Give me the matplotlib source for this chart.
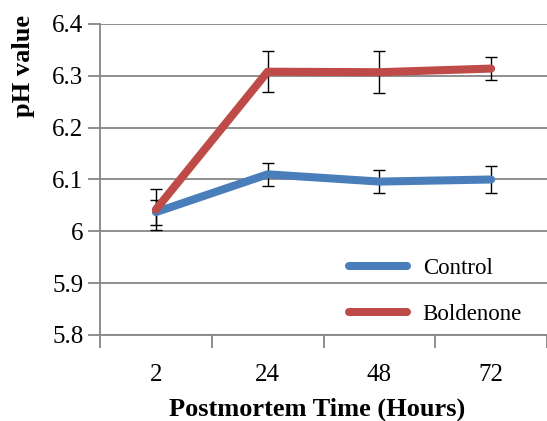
import matplotlib.pyplot as plt

plt.rcParams['font.family'] = ['Liberation Serif', 'DejaVu Serif']

hours = ['2', '24', '48', '72']
control = [6.037, 6.110, 6.096, 6.100]
control_err = [0.024, 0.022, 0.022, 0.027]
boldenone = [6.042, 6.308, 6.307, 6.314]
boldenone_err = [0.040, 0.040, 0.041, 0.022]

BLUE = '#4a7ebb'
RED = '#be4b48'
GRAY = '#868686'

fig = plt.figure(figsize=(5.47, 4.21), dpi=100)
ax = fig.add_axes([100 / 547, 1 - 335 / 421, 1 - 100 / 547, (335 - 24) / 421])

x = list(range(len(hours)))

ax.errorbar(x, control, yerr=control_err, fmt='none', ecolor='black',
            elinewidth=1, capsize=4, capthick=1, zorder=2)
ax.errorbar(x, boldenone, yerr=boldenone_err, fmt='none', ecolor='black',
            elinewidth=1, capsize=4, capthick=1, zorder=2)
ax.plot(x, control, color=BLUE, lw=5.8, solid_capstyle='round',
        solid_joinstyle='round', label='Control', zorder=3)
ax.plot(x, boldenone, color=RED, lw=5.8, solid_capstyle='round',
        solid_joinstyle='round', label='Boldenone', zorder=3)

ax.set_ylim(5.8, 6.4)
ax.set_xlim(-0.5, 3.5)
ax.set_yticks([5.8, 5.9, 6.0, 6.1, 6.2, 6.3, 6.4])
ax.set_yticklabels(['5.8', '5.9', '6', '6.1', '6.2', '6.3', '6.4'])
ax.set_xticks(x)
ax.set_xticklabels(hours)
ax.set_xticks([-0.5, 0.5, 1.5, 2.5, 3.5], minor=True)

ax.grid(axis='y', color=GRAY, lw=1.3, zorder=0)
ax.set_axisbelow(True)
for side in ['top', 'right']:
    ax.spines[side].set_visible(False)
for side in ['left', 'bottom']:
    ax.spines[side].set_color(GRAY)
    ax.spines[side].set_linewidth(1.3)

ax.tick_params(axis='y', direction='out', length=9, width=1.3, color=GRAY,
               labelsize=18, pad=3)
ax.tick_params(axis='x', which='major', length=0, labelsize=18, pad=21)
ax.tick_params(axis='x', which='minor', direction='out', length=9, width=1.3,
               color=GRAY)

ax.set_xlabel('Postmortem Time (Hours)', fontsize=19, fontweight='bold', labelpad=9)
ax.xaxis.set_label_coords(0.486, -0.2)
ax.set_ylabel('pH value', fontsize=19, fontweight='bold')
ax.yaxis.set_label_coords(-0.145, 0.865)

ax.legend(loc='lower right', bbox_to_anchor=(0.99, -0.035), frameon=False,
          fontsize=16.5, handlelength=2.5, labelspacing=1.1, handletextpad=0.7)

fig.savefig('out.png', dpi=100)
